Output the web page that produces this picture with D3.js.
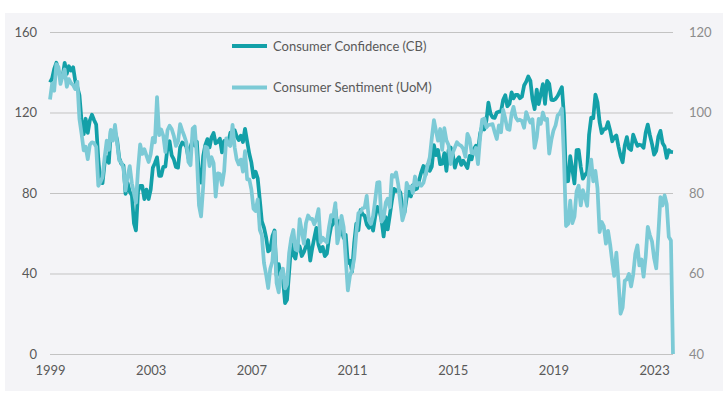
<!DOCTYPE html>
<html>
<head>
<meta charset="utf-8">
<script src="https://d3js.org/d3.v7.min.js"></script>
<style>
  body { margin: 0; background: #fff; }
  text { font-family: Lato, "Open Sans", sans-serif; }
</style>
</head>
<body>
<svg id="chart" width="727" height="397"></svg>
<script>
// monthly data, Oct 1999 .. Jul 2024
var firstMonth = new Date(1999, 9, 1);

var confidence = [
  135.0, 137.0, 141.7,
  144.7, 140.8, 137.1, 137.7, 144.7, 139.2, 143.0, 140.8, 142.5, 135.8, 132.6, 128.6,
  115.7, 109.2, 116.9, 109.9, 116.1, 118.9, 116.3, 114.0, 97.0, 85.3, 84.9, 94.6,
  97.8, 95.0, 110.7, 108.5, 110.3, 106.3, 97.4, 94.5, 93.7, 79.6, 84.9, 80.7,
  78.8, 64.8, 61.4, 81.0, 83.6, 83.5, 77.0, 81.7, 77.0, 81.7, 92.5, 94.8,
  97.7, 88.5, 88.5, 93.0, 93.1, 102.8, 105.7, 98.7, 96.7, 92.9, 92.6, 102.7,
  105.1, 104.4, 103.0, 97.5, 103.1, 106.2, 103.6, 105.5, 87.5, 85.2, 98.3, 103.8,
  106.8, 102.7, 107.5, 109.8, 104.7, 105.4, 107.0, 100.2, 105.9, 105.1, 105.3, 110.0,
  110.2, 111.2, 108.2, 106.3, 108.5, 105.3, 111.9, 105.6, 99.5, 95.2, 87.8, 90.6,
  87.3, 76.4, 65.9, 62.8, 58.1, 51.0, 51.9, 58.5, 61.4, 38.8, 44.7, 38.6,
  37.4, 25.3, 26.9, 40.8, 54.8, 49.3, 47.4, 54.5, 53.4, 48.7, 50.6, 53.6,
  56.5, 46.4, 52.3, 57.7, 62.7, 54.3, 51.0, 53.2, 48.6, 49.9, 57.8, 63.4,
  64.8, 72.0, 63.8, 66.0, 61.7, 57.6, 59.2, 45.2, 46.4, 40.9, 55.2, 64.8,
  61.5, 71.6, 69.5, 68.7, 64.4, 62.7, 65.4, 61.3, 68.4, 73.1, 71.5, 66.7,
  58.4, 68.0, 61.9, 69.0, 76.2, 82.1, 81.0, 81.8, 80.2, 72.4, 70.4, 77.5,
  80.7, 78.3, 83.9, 81.7, 82.2, 86.4, 90.3, 93.4, 89.0, 94.1, 91.0, 93.1,
  103.8, 98.8, 101.4, 94.3, 94.6, 99.8, 91.0, 101.3, 102.6, 99.1, 92.6, 96.3,
  97.8, 94.0, 96.1, 94.2, 92.4, 98.4, 96.7, 101.8, 103.5, 100.8, 109.4, 113.3,
  111.6, 116.1, 124.9, 119.4, 117.6, 117.3, 120.0, 120.4, 120.6, 126.2, 128.6, 123.1,
  124.3, 130.0, 127.0, 128.8, 128.8, 127.1, 127.9, 133.4, 135.3, 137.9, 135.7, 126.6,
  121.7, 131.4, 124.2, 129.2, 134.1, 124.3, 135.7, 134.2, 126.3, 126.1, 126.8, 128.2,
  130.4, 132.6, 118.8, 85.7, 85.9, 98.3, 91.7, 84.8, 101.3, 101.4, 92.9, 87.1,
  88.9, 90.4, 109.0, 117.5, 117.2, 128.9, 125.1, 115.2, 109.8, 111.6, 111.9, 115.2,
  111.1, 105.7, 107.6, 108.6, 103.2, 98.4, 95.3, 103.6, 107.8, 102.2, 101.4, 109.0,
  106.0, 103.4, 104.0, 103.7, 102.5, 110.1, 114.0, 108.7, 104.3, 99.1, 101.0, 108.0,
  110.9, 104.8, 103.1, 97.5, 101.3, 100.4, 100.3
];

var sentiment = [
  103.2, 107.2, 105.4,
  112.0, 111.3, 107.1, 109.2, 110.7, 106.4, 108.3, 107.3, 106.8, 105.8, 107.6, 98.4,
  94.7, 90.6, 91.5, 88.4, 92.0, 92.6, 92.4, 91.5, 81.8, 82.7, 83.9, 88.8,
  93.0, 90.7, 95.7, 93.0, 96.9, 92.4, 88.1, 87.6, 86.1, 80.6, 84.2, 86.7,
  82.4, 79.9, 77.6, 86.0, 92.1, 89.7, 90.9, 89.3, 87.7, 89.6, 93.7, 92.6,
  103.8, 94.4, 95.8, 94.2, 90.2, 95.6, 96.7, 95.9, 94.2, 91.7, 92.8, 97.1,
  95.5, 94.1, 92.6, 87.7, 86.9, 96.0, 96.5, 89.1, 76.9, 74.2, 81.6, 91.5,
  91.2, 86.7, 88.9, 87.4, 79.1, 84.9, 84.7, 82.0, 85.4, 93.6, 92.1, 91.7,
  96.9, 91.3, 88.4, 87.1, 88.3, 85.3, 90.4, 83.4, 83.4, 80.9, 76.1, 75.5,
  78.4, 70.8, 69.5, 62.6, 59.8, 56.4, 61.2, 63.0, 70.3, 57.6, 55.3, 60.1,
  61.2, 56.3, 57.3, 65.1, 68.7, 70.8, 66.0, 65.7, 73.5, 70.6, 67.4, 72.5,
  74.4, 73.6, 73.6, 72.2, 73.6, 76.0, 67.8, 68.9, 68.2, 67.7, 71.6, 74.5,
  74.2, 77.5, 67.5, 69.8, 74.3, 71.5, 63.7, 55.8, 59.5, 60.8, 63.7, 69.9,
  75.0, 75.3, 76.2, 76.4, 79.3, 73.2, 72.3, 74.3, 78.3, 82.6, 82.7, 72.9,
  73.8, 77.6, 78.6, 76.4, 84.5, 84.1, 85.1, 82.1, 77.5, 73.2, 75.1, 82.5,
  81.2, 81.6, 80.0, 84.1, 81.9, 82.5, 81.8, 82.5, 84.6, 86.9, 88.8, 93.6,
  98.1, 95.4, 93.0, 95.9, 90.7, 96.1, 93.1, 91.9, 87.2, 90.0, 91.3, 92.6,
  92.0, 91.7, 91.0, 89.0, 94.7, 93.5, 90.0, 89.8, 91.2, 87.2, 93.8, 98.2,
  98.5, 96.3, 96.9, 97.0, 97.1, 95.1, 93.4, 96.8, 95.1, 100.7, 98.5, 95.9,
  95.7, 99.7, 101.4, 98.8, 98.0, 98.2, 97.9, 96.2, 100.1, 98.6, 97.5, 98.3,
  91.2, 93.8, 98.4, 97.2, 100.0, 98.2, 98.4, 89.8, 93.2, 95.5, 96.8, 99.3,
  99.8, 101.0, 89.1, 71.8, 72.3, 78.1, 72.5, 74.1, 80.4, 81.8, 76.9, 80.7,
  79.0, 76.8, 84.9, 88.3, 82.9, 85.5, 81.2, 70.3, 72.8, 71.7, 67.4, 70.6,
  67.2, 62.8, 59.4, 65.2, 58.4, 50.0, 51.5, 58.2, 58.6, 59.9, 56.8, 59.7,
  64.9, 67.0, 62.0, 63.5, 59.2, 64.2, 71.6, 69.5, 67.9, 63.8, 61.3, 69.7,
  79.0, 76.9, 79.4, 77.2, 69.1, 68.2, 40
];

var xTickLabels = ["1999", "2003", "2007", "2011", "2015", "2019", "2023"];
var leftTicks = [0, 40, 80, 120, 160];
var rightTicks = [40, 60, 80, 100, 120];
var seriesNames = ["Consumer Confidence (CB)", "Consumer Sentiment (UoM)"];
var colors = ["#13a0a8", "#7ccad6"];

var svg = d3.select("#chart");
var plot = { left: 50, right: 673, top: 32, bottom: 354 };

// panel background
svg.append("rect")
  .attr("x", 5).attr("y", 13)
  .attr("width", 718).attr("height", 378)
  .attr("fill", "#f4f4f7");

var month = function (i) { return d3.timeMonth.offset(firstMonth, i); };
var lastMonth = month(confidence.length - 1);

var x = d3.scaleTime()
  .domain([firstMonth, lastMonth])
  .range([plot.left, plot.right]);

var yLeft = d3.scaleLinear().domain([0, 160]).range([plot.bottom, plot.top]);
var yRight = d3.scaleLinear().domain([40, 120]).range([plot.bottom, plot.top]);

// gridlines
svg.append("g").selectAll("line")
  .data(leftTicks)
  .enter().append("line")
  .attr("x1", plot.left).attr("x2", plot.right)
  .attr("y1", function (d) { return yLeft(d) + 0.5; })
  .attr("y2", function (d) { return yLeft(d) + 0.5; })
  .attr("stroke", "#c3c3c3")
  .attr("stroke-width", 1);

// left axis
var leftAxis = svg.append("g")
  .attr("transform", "translate(" + (plot.left - 13) + ",0)")
  .call(d3.axisLeft(yLeft).tickValues(leftTicks).tickSize(0).tickPadding(0));
leftAxis.select(".domain").remove();
leftAxis.selectAll("text")
  .attr("fill", "#595959")
  .style("font-size", "13px")
  .style("font-family", "Lato, sans-serif");

// right axis
var rightAxis = svg.append("g")
  .attr("transform", "translate(" + (plot.right + 16) + ",0)")
  .call(d3.axisRight(yRight).tickValues(rightTicks).tickSize(0).tickPadding(0));
rightAxis.select(".domain").remove();
rightAxis.selectAll("text")
  .attr("fill", "#8c8c8c")
  .style("font-size", "13px")
  .style("font-family", "Lato, sans-serif");

// bottom axis: labels every four years from the first month
var xTicks = xTickLabels.map(function (d, i) { return d3.timeYear.offset(firstMonth, i * 4); });
var bottomAxis = svg.append("g")
  .attr("transform", "translate(0," + (plot.bottom + 7) + ")")
  .call(d3.axisBottom(x)
    .tickValues(xTicks)
    .tickFormat(function (d, i) { return xTickLabels[i]; })
    .tickSize(0).tickPadding(5));
bottomAxis.select(".domain").remove();
bottomAxis.selectAll("text")
  .attr("fill", "#595959")
  .style("font-size", "13px")
  .style("font-family", "Lato, sans-serif");

// lines
var lineLeft = d3.line()
  .x(function (d, i) { return x(month(i)); })
  .y(function (d) { return yLeft(d); });
var lineRight = d3.line()
  .x(function (d, i) { return x(month(i)); })
  .y(function (d) { return yRight(d); });

svg.append("path")
  .datum(confidence)
  .attr("d", lineLeft)
  .attr("fill", "none")
  .attr("stroke", colors[0])
  .attr("stroke-width", 3.75)
  .attr("stroke-linejoin", "round");

svg.append("path")
  .datum(sentiment)
  .attr("d", lineRight)
  .attr("fill", "none")
  .attr("stroke", colors[1])
  .attr("stroke-width", 3.75)
  .attr("stroke-linejoin", "round");

// legend
var legend = svg.append("g").selectAll("g")
  .data(seriesNames)
  .enter().append("g")
  .attr("transform", function (d, i) { return "translate(232," + (46 + i * 41.5) + ")"; });
legend.append("line")
  .attr("x1", 0).attr("x2", 35)
  .attr("stroke", function (d, i) { return colors[i]; })
  .attr("stroke-width", 4);
legend.append("text")
  .attr("x", 41).attr("y", 0)
  .attr("dy", "0.35em")
  .attr("fill", "#595959")
  .style("font-size", "13px")
  .text(function (d) { return d; });
</script>
</body>
</html>
